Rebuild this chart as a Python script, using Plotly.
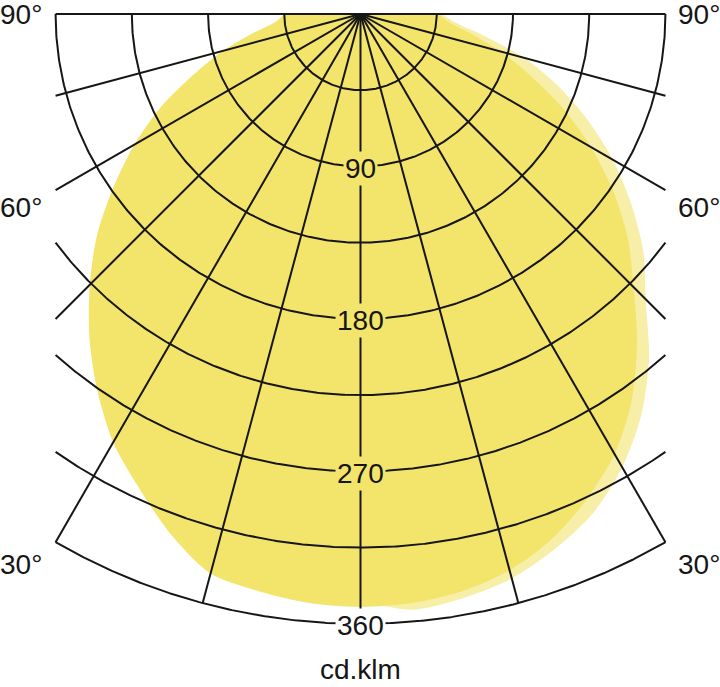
import numpy as np
import plotly.graph_objects as go

# ---------------- data (cd/klm, gamma angle from nadir) ----------------
angles = [0, 5, 10, 15, 20, 25, 30, 35, 40, 45, 50, 55, 60, 65, 70, 75, 80, 85, 90]
# C0 (right half) and C180 (left half) - saturated curve
c0 = [350, 349, 346, 340, 330, 316, 300, 279, 254, 228, 206, 182, 157, 132, 107, 86, 66, 52, 46]
c180 = [350, 349, 346, 342, 327, 309, 292, 271, 249, 226, 203, 178, 154, 130, 105, 84, 64, 50, 45]
# C90 (right half) and C270 (left half) - pale curve
c90 = [354, 353, 350, 345, 336, 325, 309, 289, 265, 238, 218, 195, 172, 148, 124, 100, 74, 56, 48]
c270 = [347, 346, 343, 339, 324, 306, 289, 268, 246, 223, 200, 175, 151, 127, 102, 81, 61, 47, 42]

ring_values = [45, 90, 135, 180, 225, 270, 315, 360]
ring_label_values = [90, 180, 270, 360]
ring_label_texts = ["90", "180", "270", "360"]
radial_angles = [-90, -75, -60, -45, -30, -15, 0, 15, 30, 45, 60, 75, 90]
side_label_texts = ["90°", "60°", "30°"]
unit_text = "cd.klm"

# ---------------- geometry helpers ----------------
R_MAX = 360.0
HALF_W = 180.0  # clipping half-width of the diagram
SCALE = 1.694   # px per unit
CX, CY = 360.5, 14.0  # pixel position of the origin


def pol(r, deg):
    t = np.radians(deg)
    return np.asarray(r) * np.sin(t), -np.asarray(r) * np.cos(t)


def px2data(px, py):
    return (px - CX) / SCALE, (CY - py) / SCALE


INNER = "#F3E46C"
PALE = "#F7EFA8"
LINE = "#161616"
FONT = "Liberation Sans, Arial, sans-serif"
FS = 28

fig = go.Figure()


def curve(left_vals, right_vals):
    th = [-a for a in angles[::-1]] + angles[1:]
    rr = list(left_vals[::-1]) + list(right_vals[1:])
    x, y = pol(rr, th)
    return x, y


# pale curve underneath
x, y = curve(c270, c90)
fig.add_trace(go.Scatter(x=x, y=y, mode="lines", fill="toself", fillcolor=PALE,
                         line=dict(width=0, shape="spline", smoothing=0.8, color=PALE),
                         hoverinfo="skip"))
# saturated curve on top
x, y = curve(c180, c0)
fig.add_trace(go.Scatter(x=x, y=y, mode="lines", fill="toself", fillcolor=INNER,
                         line=dict(width=0, shape="spline", smoothing=0.8, color=INNER),
                         hoverinfo="skip"))

# rings, clipped to |x| <= HALF_W
for rv in ring_values:
    tmax = 90.0 if rv <= HALF_W else np.degrees(np.arcsin(HALF_W / rv))
    th = np.linspace(-tmax, tmax, 361)
    x, y = pol(rv, th)
    fig.add_trace(go.Scatter(x=x, y=y, mode="lines", line=dict(color=LINE, width=2),
                             hoverinfo="skip"))

# radial lines
for a in radial_angles:
    s = abs(np.sin(np.radians(a)))
    rend = R_MAX if s < 1e-9 else min(R_MAX, HALF_W / s)
    x, y = pol([0, rend], [a, a])
    fig.add_trace(go.Scatter(x=x, y=y, mode="lines", line=dict(color=LINE, width=2),
                             hoverinfo="skip"))

annotations = []
# radial value labels on the vertical axis
for v, t in zip(ring_label_values, ring_label_texts):
    bg = INNER if v < 360 else "white"
    annotations.append(dict(x=0, y=-v, text=t, showarrow=False, bgcolor=bg,
                            borderpad=1, yshift=-2,
                            font=dict(family=FONT, size=FS, color=LINE),
                            xanchor="center", yanchor="middle"))

# side angle labels
side_py = [14, 207, 564]
for t, py in zip(side_label_texts, side_py):
    xl, yl = px2data(44, py)
    xr, _ = px2data(676, py)
    annotations.append(dict(x=xl, y=yl, text=t, showarrow=False, xanchor="right",
                            yanchor="middle", font=dict(family=FONT, size=FS, color=LINE)))
    annotations.append(dict(x=xr, y=yl, text=t, showarrow=False, xanchor="left",
                            yanchor="middle", font=dict(family=FONT, size=FS, color=LINE)))

ux, uy = px2data(361, 669)
annotations.append(dict(x=0, y=uy, text=unit_text, showarrow=False, xanchor="center",
                        yanchor="middle", font=dict(family=FONT, size=FS, color=LINE)))

x0, _ = px2data(0, 0)
x1, _ = px2data(720, 0)
_, y_top = px2data(0, 0)
_, y_bot = px2data(0, 687)

fig.update_layout(
    width=720, height=687,
    margin=dict(l=0, r=0, t=0, b=0),
    paper_bgcolor="white", plot_bgcolor="white",
    showlegend=False,
    xaxis=dict(range=[x0, x1], visible=False, fixedrange=True),
    yaxis=dict(range=[y_bot, y_top], visible=False, fixedrange=True),
    annotations=annotations,
)

fig.write_html(
    "out.html",
    config={"displayModeBar": False},
    post_script=("document.body.style.margin='0';"
                 "document.body.style.overflow='hidden';"
                 "document.documentElement.style.overflow='hidden';"),
)
